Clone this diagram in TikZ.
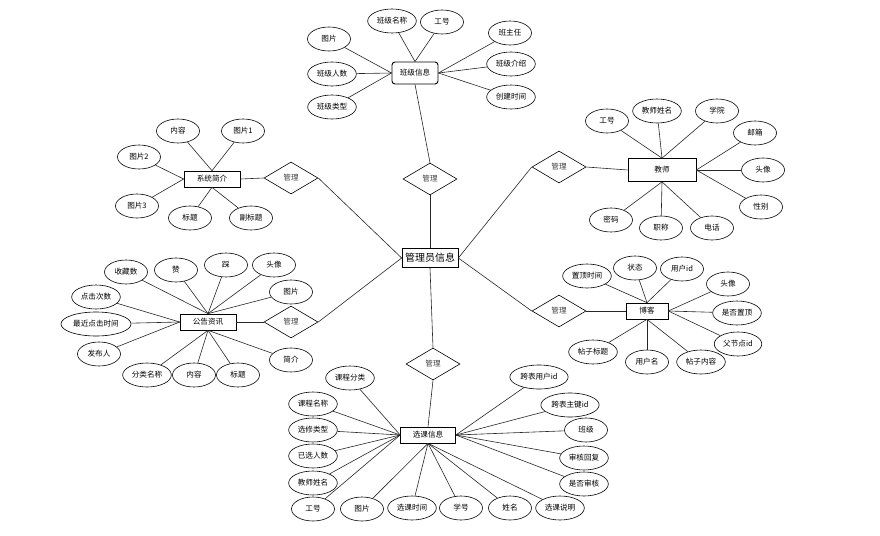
\documentclass[tikz,border=0pt]{standalone}
\usepackage{fontspec}
\setmainfont{Noto Sans CJK SC}
\usetikzlibrary{shapes.geometric}

\begin{document}
\begin{tikzpicture}[x=1pt, y=-1pt, font=\fontsize{7.6}{8}\selectfont]
    \tikzstyle{entity} = [rectangle, draw, line width=0.7pt, minimum width=56pt, minimum height=16pt, inner sep=1pt]
    \tikzstyle{attr} = [ellipse, draw, line width=0.6pt, minimum width=43pt, minimum height=24pt, inner xsep=2pt, inner ysep=0pt]
    \tikzstyle{rel} = [diamond, draw, line width=0.6pt, minimum width=54pt, minimum height=32pt, inner sep=0pt, text=black!75]
    \tikzstyle{line} = [draw, line width=0.6pt, black!85]

    \useasboundingbox (0,0) rectangle (880,535);

    % centre
    \node [entity, minimum width=56pt, minimum height=19pt, font=\fontsize{10}{11}\selectfont] (admin) at (430,258) {管理员信息};

    % class
    \node [entity, rounded corners=3pt, line width=0.9pt, minimum width=46pt, minimum height=22pt] (cls) at (415,73) {班级信息};
    \node [attr] (clsPic) at (329,39) {图片};
    \node [attr] (clsName) at (392,21) {班级名称};
    \node [attr] (clsNo) at (442,22) {工号};
    \node [attr] (clsHead) at (510,33) {班主任};
    \node [attr] (clsIntro) at (511,64) {班级介绍};
    \node [attr] (clsTime) at (511,97) {创建时间};
    \node [attr] (clsNum) at (332,74) {班级人数};
    \node [attr] (clsType) at (332,107) {班级类型};
    \node [rel] (relCls) at (430,179) {管理};

    \draw [line] (clsPic) -- (cls.west);
    \draw [line] (clsNum) -- (cls.west);
    \draw [line] (clsType) -- (cls.west);
    \draw [line] (clsName) -- (cls.north);
    \draw [line] (clsNo) -- (cls.north);
    \draw [line] (clsHead) -- (cls.east);
    \draw [line] (clsIntro) -- (cls.east);
    \draw [line] (clsTime) -- (cls.east);
    \draw [line] (cls.south) -- (relCls.north);
    \draw [line] (relCls.south) -- (admin.north);

    % system intro
    \node [entity] (sys) at (212,179) {系统简介};
    \node [attr] (sysText) at (178,131) {内容};
    \node [attr] (sysPic1) at (243,131) {图片1};
    \node [attr] (sysPic2) at (139,157) {图片2};
    \node [attr] (sysPic3) at (137,206) {图片3};
    \node [attr] (sysTitle) at (190,218) {标题};
    \node [attr] (sysSub) at (251,218) {副标题};
    \node [rel] (relSys) at (291,178) {管理};

    \draw [line] (sysText) -- (sys.north);
    \draw [line] (sysPic1) -- (sys.north);
    \draw [line] (sysPic2) -- (sys.west);
    \draw [line] (sysPic3) -- (sys.west);
    \draw [line] (sysTitle) -- (sys.south);
    \draw [line] (sysSub) -- (sys.south);
    \draw [line] (sys.east) -- (relSys.west);
    \draw [line] (relSys.east) -- (admin.west);

    % teacher
    \node [entity, minimum width=68pt, minimum height=23pt] (tch) at (662,170) {教师};
    \node [attr] (tchNo) at (607,121) {工号};
    \node [attr] (tchName) at (657,111) {教师姓名};
    \node [attr] (tchCol) at (717,111) {学院};
    \node [attr] (tchMail) at (755,133) {邮箱};
    \node [attr] (tchHead) at (763,170) {头像};
    \node [attr] (tchSex) at (761,207) {性别};
    \node [attr] (tchPwd) at (611,220) {密码};
    \node [attr] (tchRank) at (661,228) {职称};
    \node [attr] (tchTel) at (712,228) {电话};
    \node [rel] (relTch) at (559,167) {管理};

    \draw [line] (tchNo) -- (tch.north);
    \draw [line] (tchName) -- (tch.north);
    \draw [line] (tchCol) -- (tch.north);
    \draw [line] (tchMail) -- (tch.east);
    \draw [line] (tchHead) -- (tch.east);
    \draw [line] (tchSex) -- (tch.east);
    \draw [line] (tchPwd) -- (tch.south);
    \draw [line] (tchRank) -- (tch.south);
    \draw [line] (tchTel) -- (tch.south);
    \draw [line] (relTch.east) -- (tch.west);
    \draw [line] (admin.east) -- (relTch.west);

    % notice
    \node [entity] (news) at (208,322) {公告资讯};
    \node [attr] (newsFav) at (126,272) {收藏数};
    \node [attr] (newsUp) at (176,270) {赞};
    \node [attr] (newsDown) at (226,265) {踩};
    \node [attr] (newsHead) at (274,265) {头像};
    \node [attr] (newsPic) at (291,292) {图片};
    \node [attr] (newsHits) at (96,297) {点击次数};
    \node [attr] (newsLast) at (96,324) {最近点击时间};
    \node [attr] (newsUser) at (99,354) {发布人};
    \node [attr] (newsCat) at (147,375) {分类名称};
    \node [attr] (newsText) at (194,375) {内容};
    \node [attr] (newsTitle) at (238,375) {标题};
    \node [attr] (newsBrief) at (291,360) {简介};
    \node [rel] (relNews) at (291,322) {管理};

    \draw [line] (newsFav) -- (news.north);
    \draw [line] (newsUp) -- (news.north);
    \draw [line] (newsDown) -- (news.north);
    \draw [line] (newsHead) -- (news.north);
    \draw [line] (newsPic) -- (news.north);
    \draw [line] (newsHits) -- (news.west);
    \draw [line] (newsLast) -- (news.west);
    \draw [line] (newsUser) -- (news.west);
    \draw [line] (newsCat) -- (news.south);
    \draw [line] (newsText) -- (news.south);
    \draw [line] (newsTitle) -- (news.south);
    \draw [line] (newsBrief) -- (news.south);
    \draw [line] (news.east) -- (relNews.west);
    \draw [line] (relNews.east) -- (admin.west);

    % blog
    \node [entity, minimum width=42pt] (blog) at (647,311) {博客};
    \node [attr] (blogTop) at (587,276) {置顶时间};
    \node [attr] (blogState) at (635,268) {状态};
    \node [attr] (blogUid) at (682,269) {用户id};
    \node [attr] (blogHead) at (728,284) {头像};
    \node [attr] (blogIsTop) at (737,313) {是否置顶};
    \node [attr] (blogPid) at (738,344) {父节点id};
    \node [attr] (blogText) at (701,362) {帖子内容};
    \node [attr] (blogUser) at (647,362) {用户名};
    \node [attr] (blogTitle) at (593,352) {帖子标题};
    \node [rel] (relBlog) at (559,311) {管理};

    \draw [line] (blogTop) -- (blog.north);
    \draw [line] (blogState) -- (blog.north);
    \draw [line] (blogUid) -- (blog.north);
    \draw [line] (blogHead) -- (blog.east);
    \draw [line] (blogIsTop) -- (blog.east);
    \draw [line] (blogPid) -- (blog.east);
    \draw [line] (blogText) -- (blog.south);
    \draw [line] (blogUser) -- (blog.south);
    \draw [line] (blogTitle) -- (blog.south);
    \draw [line] (relBlog.east) -- (blog.west);
    \draw [line] (admin.east) -- (relBlog.west);

    % course selection
    \node [entity, minimum width=55pt] (sel) at (428,435) {选课信息};
    \node [attr] (selCat) at (350,378) {课程分类};
    \node [attr] (selName) at (313,404) {课程名称};
    \node [attr] (selType) at (313,430) {选修类型};
    \node [attr] (selNum) at (313,456) {已选人数};
    \node [attr] (selTch) at (313,483) {教师姓名};
    \node [attr] (selNo) at (313,509) {工号};
    \node [attr] (selPic) at (362,509) {图片};
    \node [attr] (selTime) at (412,508) {选课时间};
    \node [attr] (selSid) at (461,508) {学号};
    \node [attr] (selStu) at (510,508) {姓名};
    \node [attr] (selNote) at (560,508) {选课说明};
    \node [attr] (selUid) at (539,377) {跨表用户id};
    \node [attr] (selKey) at (570,405) {跨表主键id};
    \node [attr] (selCls) at (586,430) {班级};
    \node [attr] (selReply) at (584,458) {审核回复};
    \node [attr] (selCheck) at (584,484) {是否审核};
    \node [rel] (relSel) at (433,364) {管理};

    \draw [line] (selCat) -- (sel.west);
    \draw [line] (selName) -- (sel.west);
    \draw [line] (selType) -- (sel.west);
    \draw [line] (selNum) -- (sel.west);
    \draw [line] (selTch) -- (sel.west);
    \draw [line] (selNo) -- (sel.west);
    \draw [line] (selPic) -- (sel.south);
    \draw [line] (selTime) -- (sel.south);
    \draw [line] (selSid) -- (sel.south);
    \draw [line] (selStu) -- (sel.south);
    \draw [line] (selNote) -- (sel.south);
    \draw [line] (selUid) -- (sel.east);
    \draw [line] (selKey) -- (sel.east);
    \draw [line] (selCls) -- (sel.east);
    \draw [line] (selReply) -- (sel.east);
    \draw [line] (selCheck) -- (sel.east);
    \draw [line] (admin.south) -- (relSel.north);
    \draw [line] (relSel.south) -- (sel.north);
\end{tikzpicture}
\end{document}
